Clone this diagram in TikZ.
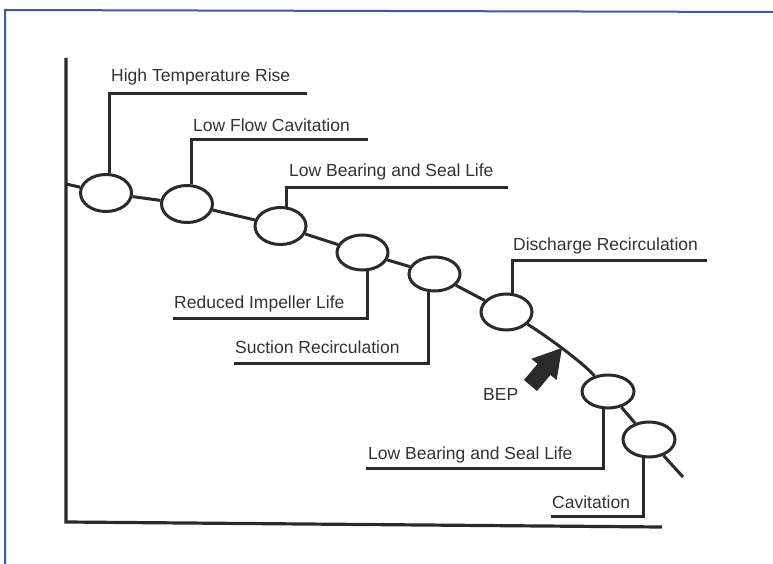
\documentclass[tikz,border=0pt]{standalone}
\usepackage{fontspec}
\setmainfont{Liberation Sans}
\usetikzlibrary{shapes.geometric,calc}
\definecolor{ink}{HTML}{2A2A2A}
\definecolor{txt}{HTML}{333333}
\definecolor{frameblue}{HTML}{3A5CA8}
\begin{document}
\begin{tikzpicture}[x=1pt,y=-1pt,
  ell/.style={ellipse,draw=ink,line width=3pt,fill=white,minimum width=51pt,minimum height=37pt,inner sep=0pt},
  curve/.style={draw=ink,line width=3pt},
  leader/.style={draw=ink,line width=3pt},
  axis/.style={draw=ink,line width=3.2pt},
  lbl/.style={anchor=base west,inner sep=0pt,text=txt,font=\fontsize{17.5}{20}\selectfont}]
\useasboundingbox (0,0) rectangle (773,564);
\fill[white] (0,0) rectangle (773,564);
% frame
\draw[frameblue,line width=2pt] (5,564) -- (5,10) -- (773,12);
% axes
\coordinate (ytop) at (66,58);
\coordinate (orig) at (66,522);
\coordinate (xend) at (662,527);
\draw[axis] (ytop) -- (orig) -- (xend);
% ellipses
\node[ell] (e1) at (106,193) {};
\node[ell] (e2) at (187,204) {};
\node[ell] (e3) at (280.5,226) {};
\node[ell,minimum height=35pt] (e4) at (362.5,252.5) {};
\node[ell,minimum height=34pt] (e5) at (434.5,274) {};
\node[ell,minimum height=36pt] (e6) at (506.5,312) {};
\node[ell,minimum height=33pt,minimum width=52pt] (e7) at (608,391.5) {};
\node[ell,minimum height=35pt,minimum width=52pt] (e8) at (649,439.5) {};
% curve
\coordinate (c0) at (66,184);
\coordinate (cend) at (683,477);
\draw[curve] (c0) -- (e1);
\draw[curve] (e1) -- (e2);
\draw[curve] (e2) -- (e3);
\draw[curve] (e3) -- (e4);
\draw[curve] (e4) -- (e5);
\draw[curve] (e5) -- (e6);
\draw[curve] (e6) .. controls (540.6,332) and (582,361.5) .. (e7);
\draw[curve] (e7) -- (e8);
\draw[curve] (e8) -- (cend);
% leaders
\coordinate (h1) at (307,94);
\coordinate (h2) at (368,140);
\coordinate (h3) at (508,188);
\coordinate (h4) at (173,318);
\coordinate (h5) at (234,363);
\coordinate (h6) at (707,260);
\coordinate (h7) at (366,468);
\coordinate (h8) at (551,516);
\draw[leader] ($(e1.north)+(3,0.5)$) |- (h1);
\draw[leader] ($(e2.north)+(4.5,0.5)$) |- (h2);
\draw[leader] ($(e3.north)+(5.5,0.8)$) |- (h3);
\draw[leader] ($(e4.south)+(4.5,-0.5)$) |- (h4);
\draw[leader] ($(e5.south)+(-6.5,-0.8)$) |- (h5);
\draw[leader] ($(e6.north)+(5.5,0.5)$) |- (h6);
\draw[leader] ($(e7.south)+(-5,-0.5)$) |- (h7);
\draw[leader] ($(e8.south)+(-6,-0.8)$) |- (h8);
% labels
\node[lbl] (t1) at (111,82) {High Temperature Rise};
\node[lbl] (t2) at (193,132) {Low Flow Cavitation};
\node[lbl] (t3) at (289,177) {Low Bearing and Seal Life};
\node[lbl] (t4) at (174,308) {Reduced Impeller Life};
\node[lbl] (t5) at (235,353) {Suction Recirculation};
\node[lbl] (t6) at (513,250) {Discharge Recirculation};
\node[lbl] (t7) at (368,459) {Low Bearing and Seal Life};
\node[lbl] (t8) at (552,508) {Cavitation};
\node[lbl] (bep) at (483,400) {BEP};
% BEP arrow
\fill[ink] (562,348) -- (556.6,380) -- (550.5,374.9) -- (537,391) -- (524,380) -- (537.5,363.9) -- (531.4,358.8) -- cycle;
\end{tikzpicture}
\end{document}
